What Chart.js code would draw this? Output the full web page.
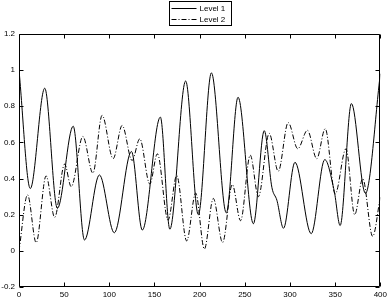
<!DOCTYPE html>
<html lang="en">
<head>
<meta charset="UTF-8">
<title>Level 1 / Level 2</title>
<script src="https://cdn.jsdelivr.net/npm/chart.js"></script>
<style>
  html, body { margin: 0; padding: 0; background: #fff; }
  canvas { display: block; }
</style>
</head>
<body>
<canvas id="myChart" width="390" height="297"></canvas>
<script>
// values: turning points of each curve
const level1X = [0, 12.5, 28.5, 42.5, 60, 72.5, 89, 105.5, 124.5, 136.5, 156.5, 167, 184.5, 198.5, 213, 229.5, 242.5, 259.5, 271.5, 280, 285.5, 292.8, 305.5, 323.5, 338.5, 349, 355.5, 368, 383.5, 400];
const level1Y = [1.0, 0.345, 0.90, 0.235, 0.69, 0.06, 0.42, 0.10, 0.55, 0.115, 0.74, 0.12, 0.94, 0.20, 0.985, 0.21, 0.85, 0.15, 0.665, 0.35, 0.28, 0.125, 0.49, 0.095, 0.505, 0.33, 0.14, 0.815, 0.318, 0.98];

const level2X = [0, 9.5, 19, 30, 39.5, 50.5, 57.8, 70.7, 81.8, 92, 104.2, 114.2, 125.2, 133.7, 144.8, 153.2, 165, 174.6, 185.6, 195.6, 205.2, 215.1, 225.4, 236.1, 245.3, 256, 265, 277, 287, 298, 308.6, 319.3, 329.6, 339, 350, 362, 371.6, 380.5, 391.5, 400];
const level2Y = [0.0, 0.31, 0.045, 0.415, 0.185, 0.48, 0.355, 0.633, 0.43, 0.75, 0.51, 0.694, 0.50, 0.62, 0.37, 0.537, 0.17, 0.417, 0.055, 0.32, 0.01, 0.29, 0.046, 0.367, 0.167, 0.53, 0.30, 0.65, 0.44, 0.71, 0.565, 0.667, 0.51, 0.676, 0.315, 0.565, 0.2, 0.4, 0.08, 0.3];

const seriesNames = ['Level 1', 'Level 2'];
const xTicks = [0, 50, 100, 150, 200, 250, 300, 350, 400];
const yTicks = [-0.2, 0, 0.2, 0.4, 0.6, 0.8, 1, 1.2];

const FONT = '"Liberation Sans", Arial, sans-serif';

function points(xs, ys) {
    return xs.map((x, i) => ({ x: x, y: ys[i] }));
}

// box around the plot with inward tick marks on all four sides
const frameTicks = {
    id: 'frameTicks',
    afterDatasetsDraw(chart) {
        const { ctx, chartArea: a, scales } = chart;
        const L = Math.round(a.left) + 0.5, R = Math.round(a.right) - 0.5;
        const T = Math.round(a.top) + 0.5, B = Math.round(a.bottom) - 0.5;
        const tl = 4;
        ctx.save();
        ctx.strokeStyle = '#000';
        ctx.lineWidth = 1;
        ctx.beginPath();
        ctx.rect(L, T, R - L, B - T);
        xTicks.forEach(v => {
            const px = Math.round(scales.x.getPixelForValue(v)) + 0.5;
            ctx.moveTo(px, B); ctx.lineTo(px, B - tl);
            ctx.moveTo(px, T); ctx.lineTo(px, T + tl);
        });
        yTicks.forEach(v => {
            const py = Math.round(scales.y.getPixelForValue(v)) + 0.5;
            ctx.moveTo(L, py); ctx.lineTo(L + tl, py);
            ctx.moveTo(R, py); ctx.lineTo(R - tl, py);
        });
        ctx.stroke();
        ctx.restore();
    }
};

// boxed legend above the plot, one row per series
const boxLegend = {
    id: 'boxLegend',
    afterDraw(chart) {
        const { ctx, chartArea: a } = chart;
        const sets = chart.data.datasets;
        ctx.save();
        ctx.font = '8px ' + FONT;
        const textW = Math.max(...sets.map(d => ctx.measureText(d.label).width));
        const sampleW = 25, rowH = 11;
        const w = 2 + sampleW + 3 + textW + 6;
        const h = sets.length * rowH + 2;
        const x0 = Math.round((a.left + a.right) / 2 - w / 2) + 0.5;
        const y0 = 1.5;
        ctx.strokeStyle = '#000';
        ctx.lineWidth = 1;
        ctx.strokeRect(x0, y0, Math.round(w), Math.round(h));
        sets.forEach((d, i) => {
            const cy = Math.round(y0 + 1 + rowH * i + rowH / 2) + 0.5;
            ctx.setLineDash(d.borderDash || []);
            ctx.beginPath();
            ctx.moveTo(x0 + 2, cy);
            ctx.lineTo(x0 + 2 + sampleW, cy);
            ctx.stroke();
            ctx.setLineDash([]);
            ctx.fillStyle = '#000';
            ctx.textBaseline = 'middle';
            ctx.fillText(d.label, x0 + 2 + sampleW + 3, cy);
        });
        ctx.restore();
    }
};

const ctx = document.getElementById('myChart').getContext('2d');
new Chart(ctx, {
    type: 'line',
    data: {
        datasets: [{
            label: seriesNames[0],
            data: points(level1X, level1Y),
            borderColor: '#000',
            borderWidth: 1,
            pointRadius: 0,
            cubicInterpolationMode: 'monotone',
            fill: false
        }, {
            label: seriesNames[1],
            data: points(level2X, level2Y),
            borderColor: '#000',
            borderWidth: 1,
            borderDash: [5, 2, 1, 2],
            pointRadius: 0,
            cubicInterpolationMode: 'monotone',
            fill: false
        }]
    },
    options: {
        responsive: false,
        animation: false,
        layout: { padding: { top: 34, right: 9, left: 0, bottom: 0 } },
        plugins: {
            legend: { display: false },
            tooltip: { enabled: false }
        },
        scales: {
            x: {
                type: 'linear',
                min: 0,
                max: 400,
                afterBuildTicks: s => { s.ticks = xTicks.map(v => ({ value: v })); },
                afterFit: s => { s.height = 10; },
                grid: { display: false, drawTicks: false },
                border: { display: false },
                ticks: {
                    color: '#000',
                    padding: 3,
                    maxRotation: 0,
                    font: { family: FONT, size: 8 },
                    callback: v => String(v)
                }
            },
            y: {
                type: 'linear',
                min: -0.2,
                max: 1.2,
                afterBuildTicks: s => { s.ticks = yTicks.map(v => ({ value: v })); },
                afterFit: s => { s.width = 19; },
                grid: { display: false, drawTicks: false },
                border: { display: false },
                ticks: {
                    color: '#000',
                    padding: 4,
                    font: { family: FONT, size: 8 },
                    callback: v => String(Number(v.toFixed(1)))
                }
            }
        }
    },
    plugins: [frameTicks, boxLegend]
});
</script>
</body>
</html>
